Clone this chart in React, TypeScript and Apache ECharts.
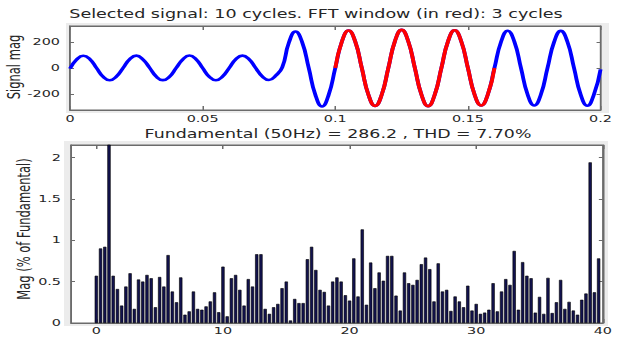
import { useEffect, useRef } from "react";
import * as echarts from "echarts";

// The figure is drawn narrow and widened horizontally by this factor.
const S = 1.5;
const W = 617;
const H = 338;

// Time-domain signal, one sample every 1/8 cycle of 50 Hz (0.0025 s).
const SAMPLE_DT = 0.0025;
const signalMag = [
  -5, 65, 95, 68, 0, -68, -95, -66,
  0, 67, 96, 66, 2, -66, -94, -67,
  0, 66, 97, 68, 0, -67, -95, -66,
  0, 67, 96, 67, 0, -66, -93, -60,
  5, 195, 282, 200, 0, -208, -298, -208,
  0, 205, 290, 206, 0, -207, -294, -207,
  0, 208, 295, 207, 0, -207, -295, -206,
  0, 206, 292, 205, 0, -205, -290, -205,
  0, 203, 288, 204, 0, -205, -290, -205,
  0, 202, 287, 203, 0, -205, -292, -205,
  -10,
];
// FFT window (seconds), drawn in red.
const fftWindow = [0.1, 0.16];

// Spectrum: one bin every 1/3 harmonic (3-cycle window), in % of fundamental.
const BIN_STEP = 1 / 3;
const harmonicMag = [
  0.57, 0.9, 0.92, 100, 0.57, 0.41, 0.21, 0.44, 0.6, 0.17,
  0.525, 0.5, 0.58, 0.54, 0.19, 0.555, 0.44, 0.82, 0.38, 0.25,
  0.55, 0.1, 0.14, 0.38, 0.17, 0.16, 0.2, 0.26, 0.37, 0.13,
  0.68, 0.08, 0.54, 0.58, 0.4, 0.21, 0.53, 0.44, 0.83, 0.83,
  0.17, 0.11, 0.19, 0.23, 0.42, 0.5, 0.03, 0.29, 0.24, 0.24,
  0.77, 0.92, 0.64, 0.4, 0.375, 0.21, 0.5, 0.55, 0.5, 0.335,
  0.27, 0.78, 0.32, 1.13, 0.22, 0.73, 0.42, 0.61, 0.51, 0.81,
  0.81, 0.33, 0.15, 0.61, 0.48, 0.46, 0.52, 0.71, 0.79, 0.65,
  0.26, 0.72, 0.38, 0.4, 0.145, 0.32, 0.26, 0.19, 0.45, 0.15,
  0.23, 0.11, 0.125, 0.16, 0.48, 0.14, 0.38, 0.53, 0.46, 0.87,
  0.16, 0.735, 0.57, 0.54, 0.125, 0.315, 0.11, 0.545, 0.12, 0.25,
  0.52, 0.17, 0.255, 0.15, 0.1, 0.28, 0.355, 1.94, 0.37, 0.78,
];

const topTitle = "Selected signal: 10 cycles. FFT window (in red): 3 cycles";
const bottomTitle = "Fundamental (50Hz) = 286.2 , THD = 7.70%";
const topYName = "Signal mag";
const bottomYName = "Mag (% of Fundamental)";

const FONT = "DejaVu Sans";
const TXT = "#262626";
const AX = "#6b6b6b";
const TICK_FONT = 9.6;

const px = (v: number) => v / S;

function axisCommon(gridIndex: number) {
  return {
    gridIndex,
    type: "value" as const,
    axisLine: { show: true, onZero: false, lineStyle: { color: AX, width: 1 } },
    splitLine: { show: false },
  };
}

function buildOption() {
  const signalData = signalMag.map((v, i) => [i * SAMPLE_DT, v]);
  const windowData = signalData.filter(
    ([t]) => t >= fftWindow[0] - 1e-9 && t <= fftWindow[1] + 1e-9
  );
  const spectrumData = harmonicMag.map((v, i) => [i * BIN_STEP, v]);

  const xLabel = {
    color: TXT,
    fontFamily: FONT,
    fontSize: TICK_FONT,
  };
  const xTick = { inside: true, length: 4, lineStyle: { color: AX } };
  const yTick = { inside: true, length: px(4), lineStyle: { color: AX } };

  return {
    animation: false,
    backgroundColor: "#ffffff",
    grid: [
      {
        left: px(70),
        top: 26,
        width: px(536),
        height: 84,
        show: true,
        backgroundColor: "#ffffff",
        borderColor: AX,
        borderWidth: 1,
      },
      {
        left: px(71),
        top: 145,
        width: px(533),
        height: 178,
        show: true,
        backgroundColor: "#ffffff",
        borderColor: AX,
        borderWidth: 1,
      },
    ],
    xAxis: [
      {
        ...axisCommon(0),
        min: 0,
        max: 0.2,
        interval: 0.05,
        axisTick: xTick,
        axisLabel: { ...xLabel, margin: 4 },
      },
      {
        ...axisCommon(0),
        position: "top",
        min: 0,
        max: 0.2,
        interval: 0.05,
        axisTick: xTick,
        axisLabel: { show: false },
      },
      {
        ...axisCommon(1),
        min: -2,
        max: 40,
        splitNumber: 4,
        axisTick: xTick,
        axisLabel: { ...xLabel, margin: 3, showMinLabel: false },
      },
      {
        ...axisCommon(1),
        position: "top",
        min: -2,
        max: 40,
        splitNumber: 4,
        axisTick: xTick,
        axisLabel: { show: false },
      },
    ],
    yAxis: [
      {
        ...axisCommon(0),
        min: -325,
        max: 325,
        splitNumber: 3,
        axisTick: yTick,
        axisLabel: {
          color: TXT,
          fontFamily: FONT,
          fontSize: TICK_FONT,
          margin: px(10),
          showMinLabel: false,
          showMaxLabel: false,
        },
      },
      {
        ...axisCommon(0),
        position: "right",
        min: -325,
        max: 325,
        splitNumber: 3,
        axisTick: yTick,
        axisLabel: { show: false },
      },
      {
        ...axisCommon(1),
        min: 0,
        max: 2.15,
        interval: 0.5,
        axisTick: yTick,
        axisLabel: {
          color: TXT,
          fontFamily: FONT,
          fontSize: TICK_FONT,
          margin: px(10),
          showMaxLabel: false,
        },
      },
      {
        ...axisCommon(1),
        position: "right",
        min: 0,
        max: 2.15,
        interval: 0.5,
        axisTick: yTick,
        axisLabel: { show: false },
      },
    ],
    series: [
      {
        type: "line",
        xAxisIndex: 0,
        yAxisIndex: 0,
        data: signalData,
        showSymbol: false,
        smooth: 0.5,
        lineStyle: { color: "#0000ff", width: 2.6 },
        z: 2,
      },
      {
        type: "line",
        xAxisIndex: 0,
        yAxisIndex: 0,
        data: windowData,
        showSymbol: false,
        smooth: 0.5,
        lineStyle: { color: "#ff0000", width: 2.6 },
        z: 3,
      },
      {
        type: "bar",
        xAxisIndex: 2,
        yAxisIndex: 2,
        data: spectrumData,
        barWidth: px(3.4),
        clip: true,
        itemStyle: { color: "#12124f", borderColor: "#000000", borderWidth: 0.5 },
      },
    ],
    graphic: [
      {
        type: "rect",
        z: -10,
        shape: { x: px(66), y: 23, width: px(543), height: 90 },
        style: { fill: "#ececec" },
      },
      {
        type: "rect",
        z: -10,
        shape: { x: px(64), y: 141, width: px(544), height: 185 },
        style: { fill: "#ececec" },
      },
      {
        type: "text",
        x: px(316),
        y: 14,
        style: {
          text: topTitle,
          fontFamily: FONT,
          fontSize: 11.7,
          fill: TXT,
          align: "center",
          verticalAlign: "middle",
        },
      },
      {
        type: "text",
        x: px(338),
        y: 134,
        style: {
          text: bottomTitle,
          fontFamily: FONT,
          fontSize: 11.6,
          fill: TXT,
          align: "center",
          verticalAlign: "middle",
        },
      },
      {
        type: "text",
        x: px(14),
        y: 67,
        rotation: Math.PI / 2,
        style: {
          text: topYName,
          fontFamily: FONT,
          fontSize: 11.5,
          fill: TXT,
          align: "center",
          verticalAlign: "middle",
        },
      },
      {
        type: "text",
        x: px(24),
        y: 229,
        rotation: Math.PI / 2,
        style: {
          text: bottomYName,
          fontFamily: FONT,
          fontSize: 11.5,
          fill: TXT,
          align: "center",
          verticalAlign: "middle",
        },
      },
    ],
  };
}

export default function App() {
  const ref = useRef<HTMLDivElement>(null);

  useEffect(() => {
    if (!ref.current) return;
    const chart = echarts.init(ref.current, null, { renderer: "svg" });
    chart.setOption(buildOption() as any);
    return () => chart.dispose();
  }, []);

  return (
    <div
      style={{
        position: "fixed",
        left: 0,
        top: 0,
        width: W,
        height: H,
        background: "#ffffff",
        overflow: "hidden",
      }}
    >
      <div
        ref={ref}
        style={{
          width: W / S,
          height: H,
          transform: `scaleX(${S})`,
          transformOrigin: "0 0",
        }}
      />
    </div>
  );
}
